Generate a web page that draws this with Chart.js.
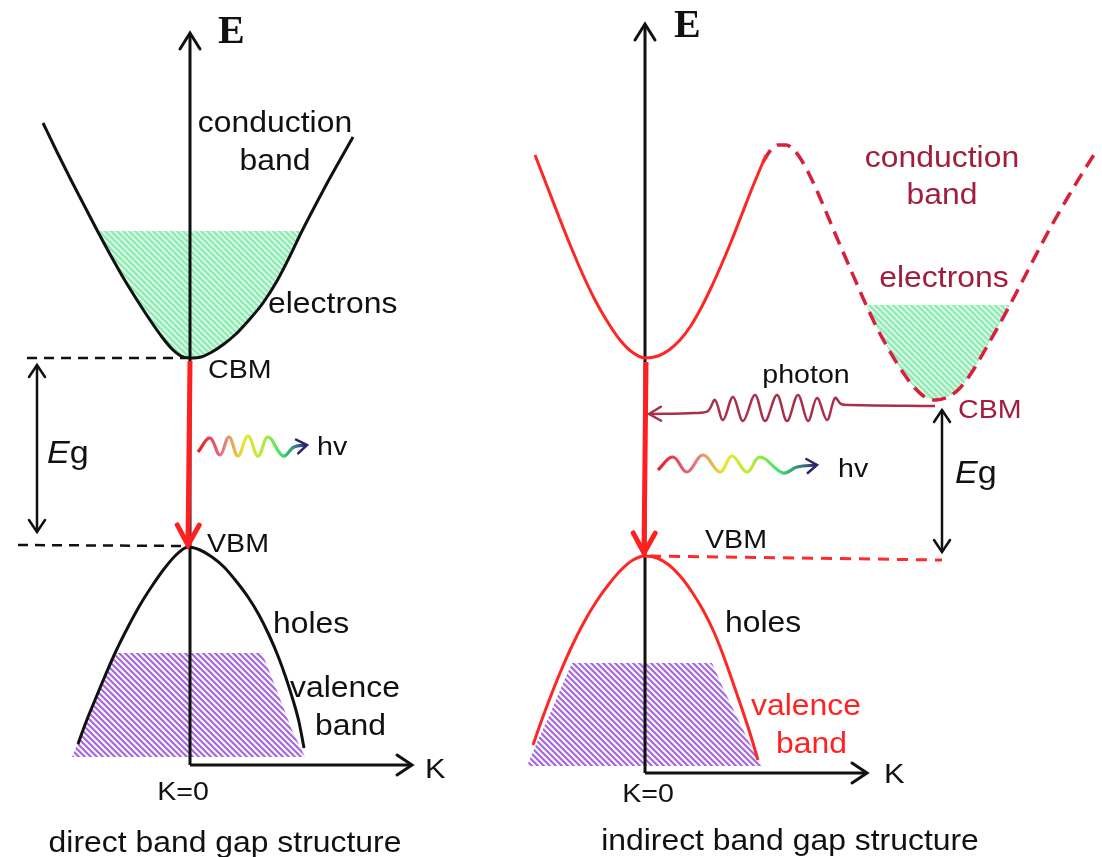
<!DOCTYPE html>
<html>
<head>
<meta charset="utf-8">
<script src="https://cdn.jsdelivr.net/npm/chart.js@4.4.0/dist/chart.umd.min.js"></script>
<style>
  html, body { margin: 0; padding: 0; background: #fff; }
</style>
</head>
<body>
<canvas id="bands" width="1102" height="857"></canvas>
<script>
// picture units: x grows to the right (k), y grows downward (-E)

// ---- direct gap (left) ----
const leftConduction = [
  {x:43,y:123},{x:57,y:152},{x:71,y:180},{x:85,y:207},{x:98,y:232},{x:111,y:256},
  {x:124,y:279},{x:137,y:300},{x:150,y:320},{x:162,y:337},{x:172,y:349},{x:181,y:356},
  {x:190,y:358},{x:201,y:357},{x:212,y:352},{x:224,y:344},{x:236,y:334},{x:249,y:320},
  {x:263,y:303},{x:277,y:281},{x:290,y:256},{x:302,y:231},{x:316,y:204},{x:331,y:176},
  {x:353,y:137}
];
const leftElectrons = [
  {x:98,y:231},{x:111,y:256},{x:124,y:279},{x:137,y:300},{x:150,y:320},{x:162,y:337},
  {x:172,y:349},{x:181,y:356},{x:190,y:358},{x:201,y:357},{x:212,y:352},{x:224,y:344},
  {x:236,y:334},{x:249,y:320},{x:263,y:303},{x:277,y:281},{x:290,y:256},{x:302,y:231}
];
const leftValence = [
  {x:78,y:744},{x:86,y:722},{x:95,y:700},{x:105,y:676},{x:116,y:651},{x:128,y:627},
  {x:140,y:605},{x:152,y:586},{x:164,y:569},{x:176,y:555},{x:188,y:547},{x:200,y:550},
  {x:212,y:557},{x:224,y:567},{x:236,y:581},{x:248,y:597},{x:259,y:615},{x:269,y:635},
  {x:278,y:656},{x:286,y:678},{x:293,y:700},{x:299,y:722},{x:304,y:748}
];
const leftHoles = [
  {x:72,y:757},{x:80,y:738},{x:90,y:712},{x:100,y:688},{x:108,y:670},{x:117,y:653},
  {x:262,y:653},{x:272,y:678},{x:282,y:704},{x:292,y:730},{x:305,y:757}
];
const leftEAxis = [{x:190,y:765},{x:190,y:33}];
const leftKAxis = [{x:190,y:765},{x:412,y:765}];
const leftCbmLevel = [{x:27,y:358},{x:190,y:358}];
const leftVbmLevel = [{x:18,y:545},{x:188,y:546}];
const leftGap = [{x:37,y:365},{x:37,y:532}];
const leftTransition = [{x:190,y:361},{x:188,y:545}];
const leftPhoton = [
  {x:198,y:452},{x:210,y:438},{x:220,y:455},{x:229,y:437},{x:238,y:456},{x:248,y:436},
  {x:258,y:456},{x:268,y:437},{x:283,y:456},{x:294,y:447},{x:307,y:445}
];

// ---- indirect gap (right) ----
const rightConduction = [
  {x:535,y:155},{x:547,y:186},{x:559,y:217},{x:571,y:247},{x:583,y:275},{x:595,y:300},
  {x:607,y:321},{x:620,y:340},{x:632,y:352},{x:645,y:358},{x:658,y:356},{x:669,y:350},
  {x:680,y:340},{x:690,y:327},{x:700,y:310},{x:710,y:290},{x:720,y:268},{x:731,y:242},
  {x:742,y:214},{x:753,y:186},{x:766,y:155}
];
const rightConductionX = [
  {x:763,y:162},{x:770,y:151},{x:778,y:145},{x:786,y:145},{x:794,y:150},{x:802,y:161},
  {x:812,y:180},{x:824,y:207},{x:837,y:238},{x:850,y:268},{x:863,y:298},{x:876,y:326},
  {x:889,y:350},{x:902,y:371},{x:914,y:387},{x:925,y:397},{x:936,y:400},{x:948,y:397},
  {x:960,y:388},{x:972,y:372},{x:985,y:350},{x:998,y:327},{x:1011,y:303},{x:1024,y:278},
  {x:1038,y:251},{x:1053,y:223},{x:1068,y:197},{x:1083,y:172},{x:1097,y:150}
];
const rightElectrons = [
  {x:866,y:305},{x:876,y:326},{x:889,y:350},{x:902,y:371},{x:914,y:387},{x:925,y:397},
  {x:936,y:400},{x:948,y:397},{x:960,y:388},{x:972,y:372},{x:985,y:350},{x:998,y:327},
  {x:1010,y:305}
];
const rightValence = [
  {x:533,y:745},{x:541,y:722},{x:550,y:698},{x:560,y:673},{x:571,y:648},{x:583,y:624},
  {x:596,y:602},{x:609,y:584},{x:621,y:570},{x:633,y:560},{x:645,y:556},{x:657,y:558},
  {x:669,y:565},{x:681,y:577},{x:692,y:592},{x:703,y:610},{x:713,y:630},{x:722,y:652},
  {x:731,y:677},{x:740,y:703},{x:749,y:730},{x:758,y:760}
];
const rightHoles = [
  {x:527,y:766},{x:538,y:740},{x:550,y:714},{x:561,y:688},{x:572,y:663},
  {x:712,y:663},{x:724,y:690},{x:737,y:717},{x:749,y:742},{x:762,y:766}
];
const rightEAxis = [{x:645,y:773},{x:645,y:24}];
const rightKAxis = [{x:645,y:773},{x:867,y:773}];
const rightVbmLevel = [{x:650,y:556},{x:942,y:560}];
const rightGap = [{x:942,y:410},{x:942,y:552}];
const rightTransition = [{x:646,y:362},{x:644,y:553}];
const phononPhoton = [
  {x:935,y:406},{x:850,y:405},{x:841,y:404},{x:835,y:398},{x:827,y:420},{x:817,y:398},
  {x:808,y:421},{x:798,y:395},{x:787,y:421},{x:777,y:395},{x:765,y:421},{x:755,y:395},
  {x:743,y:421},{x:733,y:397},{x:723,y:420},{x:715,y:400},{x:708,y:411},{x:695,y:413},
  {x:649,y:414}
];
const rightPhoton = [
  {x:658,y:470},{x:673,y:457},{x:687,y:472},{x:703,y:455},{x:720,y:472},{x:732,y:456},
  {x:747,y:472},{x:760,y:457},{x:783,y:473},{x:797,y:467},{x:817,y:465}
];

// ---- text ----
const annotations = [
  {t:'E', x:218, y:43, serif:true, size:40},
  {t:'conduction', x:275, y:132, size:29, align:'center'},
  {t:'band', x:275, y:170, size:29, align:'center'},
  {t:'electrons', x:268, y:313, size:29},
  {t:'CBM', x:208, y:378, size:26},
  {t:'Eg', x:47, y:463, size:31, italicE:true},
  {t:'hv', x:317, y:455, size:26},
  {t:'VBM', x:207, y:552, size:26},
  {t:'holes', x:273, y:633, size:29},
  {t:'valence', x:290, y:697, size:29},
  {t:'band', x:315, y:735, size:29},
  {t:'K', x:425, y:778, size:28},
  {t:'K=0', x:183, y:800, size:26, align:'center'},
  {t:'direct band gap structure', x:225, y:852, size:29, align:'center'},

  {t:'E', x:674, y:37, serif:true, size:40},
  {t:'conduction', x:942, y:167, size:29, align:'center', color:'#a11d3e'},
  {t:'band', x:942, y:204, size:29, align:'center', color:'#a11d3e'},
  {t:'electrons', x:944, y:287, size:29, align:'center', color:'#a11d3e'},
  {t:'photon', x:806, y:383, size:26, align:'center'},
  {t:'CBM', x:958, y:418, size:26, color:'#a11d3e'},
  {t:'Eg', x:955, y:483, size:31, italicE:true},
  {t:'hv', x:838, y:477, size:26},
  {t:'VBM', x:705, y:548, size:26},
  {t:'holes', x:725, y:632, size:29},
  {t:'valence', x:751, y:715, size:29, color:'#ff2222'},
  {t:'band', x:776, y:753, size:29, color:'#ff2222'},
  {t:'K', x:884, y:783, size:28},
  {t:'K=0', x:648, y:802, size:26, align:'center'},
  {t:'indirect band gap structure', x:790, y:850, size:29, align:'center'}
];

function stripes(c1, c2, size, w) {
  const t = document.createElement('canvas');
  t.width = t.height = size;
  const g = t.getContext('2d');
  g.fillStyle = c2;
  g.fillRect(0, 0, size, size);
  g.strokeStyle = c1;
  g.lineWidth = w;
  g.beginPath();
  g.moveTo(-1, -1); g.lineTo(size + 1, size + 1);
  g.moveTo(-1, size - 1); g.lineTo(1, size + 1);
  g.moveTo(size - 1, -1); g.lineTo(size + 1, 1);
  g.stroke();
  return g.createPattern(t, 'repeat');
}
const mint = stripes('#88edc8', '#e8f9d0', 6, 2.4);
const purple = stripes('#b04ef0', '#e2f7e0', 6, 1.8);

function rainbow(pts) {
  return (c) => {
    const chart = c.chart;
    if (!chart.chartArea) return '#e02020';
    const xs = chart.scales.x;
    const g = chart.ctx.createLinearGradient(xs.getPixelForValue(pts[0].x), 0,
      xs.getPixelForValue(pts[pts.length - 1].x), 0);
    g.addColorStop(0, '#ec1c24');
    g.addColorStop(0.22, '#e46f84');
    g.addColorStop(0.42, '#e8e82a');
    g.addColorStop(0.6, '#b4ea3c');
    g.addColorStop(0.76, '#3ee46c');
    g.addColorStop(0.9, '#3a7a80');
    g.addColorStop(1, '#2b2470');
    return g;
  };
}

function line(data, color, width, extra) {
  return Object.assign({
    data: data, borderColor: color, borderWidth: width, pointRadius: 0,
    pointHoverRadius: 0, fill: false, tension: 0, clip: false, order: 5
  }, extra || {});
}
function curve(data, color, width, extra) {
  return line(data, color, width, Object.assign({
    cubicInterpolationMode: 'monotone', order: 4
  }, extra || {}));
}
function area(data, pattern, level, smooth) {
  return {
    data: data, borderColor: 'rgba(0,0,0,0)', borderWidth: 1, backgroundColor: pattern,
    pointRadius: 0, fill: {value: level}, tension: 0, clip: false, order: 10,
    cubicInterpolationMode: smooth ? 'monotone' : 'default'
  };
}

const datasets = [
  area(leftElectrons, mint, 231, true),
  area(leftHoles, purple, 757, false),
  area(rightElectrons, mint, 305, true),
  area(rightHoles, purple, 766, false),

  line(leftEAxis, '#111', 3, {arrow: 'end', head: [16, 10]}),
  line(leftKAxis, '#111', 3, {arrow: 'end', head: [15, 10]}),
  line(leftCbmLevel, '#111', 2.5, {borderDash: [10, 7]}),
  line(leftVbmLevel, '#111', 2.5, {borderDash: [10, 7]}),
  line(leftGap, '#111', 2.5, {arrow: 'both', head: [12, 8]}),
  curve(leftConduction, '#111', 3),
  curve(leftValence, '#111', 3),
  line(leftTransition, '#ff1f1f', 5, {arrow: 'end', head: [20, 11], order: 1}),
  line(leftPhoton, rainbow(leftPhoton), 3.2, {tension: 0.4, arrow: 'end', head: [10, 7],
    headColor: '#2b2470', headWidth: 2.5, order: 1}),

  line(rightEAxis, '#111', 3, {arrow: 'end', head: [16, 10]}),
  line(rightKAxis, '#111', 3, {arrow: 'end', head: [15, 10]}),
  line(rightGap, '#111', 2.5, {arrow: 'both', head: [12, 8]}),
  line(rightVbmLevel, '#ff2a2a', 3, {borderDash: [11, 8]}),
  curve(rightConduction, '#ff2626', 3),
  curve(rightConductionX, '#d8203c', 3.5, {borderDash: [14, 8]}),
  curve(rightValence, '#ff2626', 3),
  line(rightTransition, '#ff1f1f', 5, {arrow: 'end', head: [20, 11], order: 1}),
  line(phononPhoton, '#a8304a', 2.5, {tension: 0.35, arrow: 'end', head: [12, 7], order: 2}),
  line(rightPhoton, rainbow(rightPhoton), 3.2, {tension: 0.4, arrow: 'end', head: [10, 7],
    headColor: '#2b2470', headWidth: 2.5, order: 1})
];

const arrowHeads = {
  id: 'arrowHeads',
  afterDatasetsDraw(chart) {
    const ctx = chart.ctx;
    chart.data.datasets.forEach((ds, i) => {
      if (!ds.arrow) return;
      const pts = chart.getDatasetMeta(i).data;
      const n = pts.length;
      const draw = (from, tip) => {
        const a = Math.atan2(tip.y - from.y, tip.x - from.x);
        const ux = Math.cos(a), uy = Math.sin(a);
        const [len, half] = ds.head;
        ctx.save();
        ctx.strokeStyle = ds.headColor || ds.borderColor;
        ctx.lineWidth = ds.headWidth || ds.borderWidth;
        ctx.lineCap = 'round';
        ctx.lineJoin = 'miter';
        ctx.beginPath();
        ctx.moveTo(tip.x - len * ux - half * uy, tip.y - len * uy + half * ux);
        ctx.lineTo(tip.x, tip.y);
        ctx.lineTo(tip.x - len * ux + half * uy, tip.y - len * uy - half * ux);
        ctx.stroke();
        ctx.restore();
      };
      draw(pts[n - 2], pts[n - 1]);
      if (ds.arrow === 'both') draw(pts[1], pts[0]);
    });
  }
};

const textLabels = {
  id: 'textLabels',
  afterDraw(chart) {
    const ctx = chart.ctx;
    const xs = chart.scales.x, ys = chart.scales.y;
    annotations.forEach(a => {
      const px = xs.getPixelForValue(a.x), py = ys.getPixelForValue(a.y);
      ctx.save();
      ctx.fillStyle = a.color || '#111';
      ctx.textBaseline = 'alphabetic';
      ctx.translate(px, py);
      if (a.serif) {
        ctx.font = 'bold ' + a.size + 'px "Liberation Serif", "Times New Roman", serif';
        ctx.textAlign = 'left';
        ctx.fillText(a.t, 0, 0);
      } else {
        ctx.scale(1.1, 1);
        const sans = a.size + 'px "Liberation Sans", Arial, sans-serif';
        if (a.italicE) {
          ctx.textAlign = 'left';
          ctx.font = 'italic ' + sans;
          ctx.fillText(a.t[0], 0, 0);
          const w = ctx.measureText(a.t[0]).width;
          ctx.font = sans;
          ctx.fillText(a.t.slice(1), w, 0);
        } else {
          ctx.font = sans;
          ctx.textAlign = a.align || 'left';
          ctx.fillText(a.t, 0, 0);
        }
      }
      ctx.restore();
    });
  }
};

new Chart(document.getElementById('bands'), {
  type: 'line',
  data: { datasets: datasets },
  options: {
    responsive: false,
    animation: false,
    events: [],
    layout: { padding: 0, autoPadding: false },
    plugins: { legend: { display: false }, tooltip: { enabled: false } },
    scales: {
      x: { type: 'linear', min: 0, max: 1102, display: false },
      y: { type: 'linear', min: 0, max: 857, reverse: true, display: false }
    }
  },
  plugins: [arrowHeads, textLabels]
});
</script>
</body>
</html>
